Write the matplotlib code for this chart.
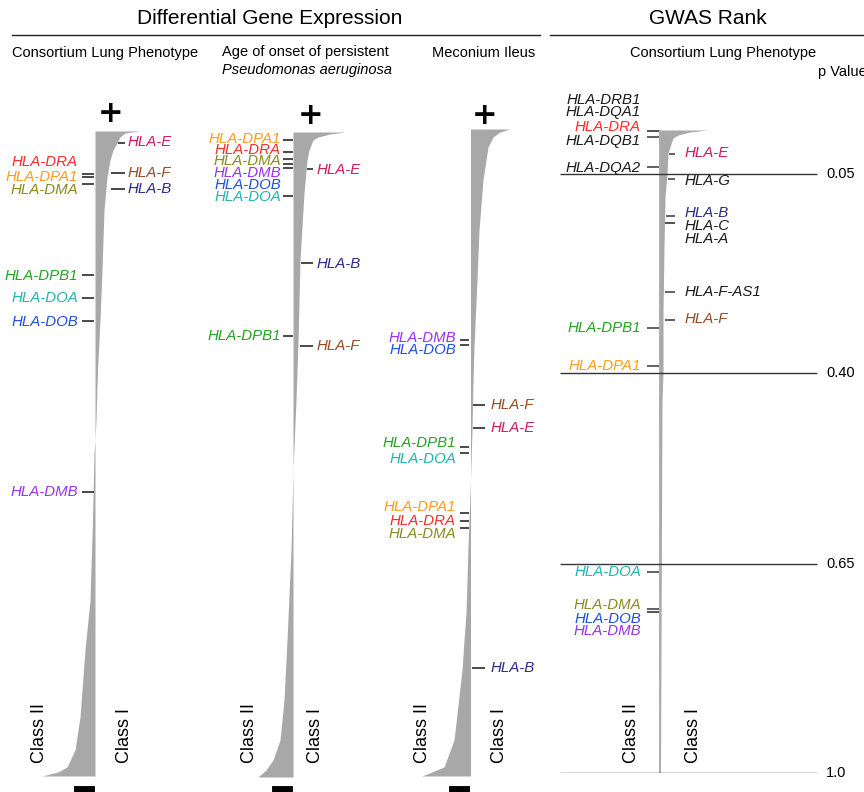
import numpy as np
import matplotlib
matplotlib.use("Agg")
import matplotlib.pyplot as plt
import matplotlib.patheffects as pe
from matplotlib.lines import Line2D

plt.rcParams['font.family'] = ['Liberation Sans', 'DejaVu Sans']

# ---------------- data ----------------
# sorted statistic (wedge): rank fraction (0 = top) vs score
p1_rank = [0, 0.0031, 0.0093, 0.0186, 0.0295, 0.045, 0.0713, 0.1225, 0.2155, 0.293, 0.3705,
           0.4481, 0.4791, 0.4992, 0.6031, 0.7271, 0.8047, 0.9085, 0.9597, 0.986, 0.9938, 1.0]
p1_score = [45, 30, 25, 22, 18, 15, 12, 9, 7, 5, 2.5, 1, 0, -1, -2.5, -5, -10, -15, -20, -28, -37, -53]

p2_rank = [0, 0.0031, 0.0078, 0.0124, 0.0279, 0.0434, 0.0946, 0.1984, 0.3271, 0.4155, 0.524,
           0.6481, 0.7876, 0.8806, 0.9426, 0.9736, 0.9891, 1.0]
p2_score = [52, 37, 25, 20, 16, 14, 11, 7, 5, 3, 0, -2, -6, -9, -13, -20, -27, -35]

p3_rank = [0, 0.0046, 0.0124, 0.0278, 0.0788, 0.1561, 0.2334, 0.3369, 0.3879, 0.4652, 0.5425,
           0.6461, 0.7481, 0.7898, 0.8362, 0.9444, 0.9861, 1.0]
p3_score = [39.5, 29.5, 22.5, 17.5, 12.5, 8.5, 6.5, 3.5, 2.5, 1.5, 0, -2.5, -4.5, -6.5, -8.5,
            -16.5, -26.5, -48.5]

gw_rank = [0, 0.0031, 0.0078, 0.0124, 0.0358, 0.0669, 0.1042, 0.182, 0.2846, 0.3779, 0.4199, 1.0]
gw_score = [48, 30, 18, 13, 8, 7, 5, 4, 3, 3, 2, 0.5]

# gene ranks in each panel
p1_left = ['HLA-DRA', 'HLA-DPA1', 'HLA-DMA', 'HLA-DPB1', 'HLA-DOA', 'HLA-DOB', 'HLA-DMB']
p1_left_rank = [0.0667, 0.0713, 0.0822, 0.2233, 0.2589, 0.2946, 0.5597]
p1_right = ['HLA-E', 'HLA-F', 'HLA-B']
p1_right_rank = [0.0186, 0.0651, 0.0899]

p2_left = ['HLA-DPA1', 'HLA-DRA', 'HLA-DMA', 'HLA-DMB', 'HLA-DOB', 'HLA-DOA', 'HLA-DPB1']
p2_left_rank = [0.0124, 0.031, 0.0419, 0.0496, 0.0558, 0.0992, 0.3163]
p2_right = ['HLA-E', 'HLA-B', 'HLA-F']
p2_right_rank = [0.0574, 0.2031, 0.3318]

p3_left = ['HLA-DMB', 'HLA-DOB', 'HLA-DPB1', 'HLA-DOA', 'HLA-DPA1', 'HLA-DRA', 'HLA-DMA']
p3_left_rank = [0.3261, 0.3338, 0.4915, 0.5008, 0.5935, 0.6059, 0.6167]
p3_right = ['HLA-F', 'HLA-E', 'HLA-B']
p3_right_rank = [0.4266, 0.4621, 0.8331]

gw_left = ['HLA-DRB1', 'HLA-DQA1', 'HLA-DRA', 'HLA-DQB1', 'HLA-DQA2', 'HLA-DPB1', 'HLA-DPA1',
           'HLA-DOA', 'HLA-DMA', 'HLA-DOB', 'HLA-DMB']
gw_left_rank = [0.0016, 0.0016, 0.0016, 0.0109, 0.0575, 0.3079, 0.367, 0.6874, 0.7449, 0.7496, 0.7496]
gw_right = ['HLA-E', 'HLA-G', 'HLA-B', 'HLA-C', 'HLA-A', 'HLA-F-AS1', 'HLA-F']
gw_right_rank = [0.0373, 0.0762, 0.1337, 0.1446, 0.1446, 0.2519, 0.2955]

p_labels = ['0.05', '0.40', '0.65', '1.0']
p_rank = [0.0684, 0.3779, 0.675, 1.0]

# label positions (layout only, rank units)
p1_left_lab = [0.0481, 0.0713, 0.0915, 0.2248, 0.2589, 0.2961, 0.5597]
p1_right_lab = [0.0171, 0.0651, 0.0899]
p2_left_lab = [0.0109, 0.0279, 0.045, 0.0636, 0.0822, 0.1008, 0.3163]
p2_right_lab = [0.0589, 0.2047, 0.3318]
p3_left_lab = [0.323, 0.3416, 0.4853, 0.51, 0.5842, 0.6059, 0.626]
p3_right_lab = p3_right_rank
gw_left_lab = [-0.0467, -0.028, -0.0047, 0.0171, 0.0591, 0.3079, 0.367, 0.6874, 0.7387, 0.7605, 0.7792]
gw_right_lab = [0.0358, 0.0793, 0.1291, 0.1493, 0.1695, 0.2519, 0.2939]

colors = {
    'HLA-DRA': '#ff2a2a', 'HLA-DPA1': '#ff9c1e', 'HLA-DMA': '#8a8a22',
    'HLA-DPB1': '#25a325', 'HLA-DOA': '#22b4b4', 'HLA-DOB': '#2050e0',
    'HLA-DMB': '#9933ee', 'HLA-E': '#cc1c5c', 'HLA-F': '#9a4a22',
    'HLA-B': '#2c2a8a',
}
BLACK = '#1a1a1a'
GRAY = '#a8a8a8'
LABEL_SIZE = 10.8

W, H = 864, 792
fig = plt.figure(figsize=(W / 100, H / 100), dpi=100)


def fx(px):
    return px / W


def fy(py):
    return 1 - py / H


def panel(zero, top, bottom):
    ax = fig.add_axes([0, fy(bottom), 1, (bottom - top) / H])
    ax.set_xlim(-zero, W - zero)
    ax.set_ylim(1, 0)
    ax.axis('off')
    return ax


def draw(ax, top, bottom, rank, score, left, lrank, llab, right, rrank, rlab, lay, tick='#3a3a3a'):
    ax.fill_betweenx(rank, 0, score, color=GRAY, lw=0)
    for g, r, lr in zip(left, lrank, llab):
        ax.plot([lay['lt'][0], lay['lt'][1]], [r, r], color=tick, lw=1.3, solid_capstyle='butt')
        ax.text(lay['lx'], lr, g, ha='right', va='center', style='italic', fontsize=LABEL_SIZE,
                color=colors.get(g, BLACK))
    for g, r, lr in zip(right, rrank, rlab):
        x0 = max(np.interp(r, rank, score) + 1, lay['rt'][0])
        ax.plot([x0, lay['rt'][1]], [r, r], color=tick, lw=1.3, solid_capstyle='butt')
        ax.text(lay['rx'], lr, g, ha='left', va='center', style='italic', fontsize=LABEL_SIZE,
                color=colors.get(g, BLACK))
    yb = (763 - top) / (bottom - top)
    ax.text(lay['c2'], yb, 'Class II', rotation=90, ha='center', va='bottom', fontsize=13)
    ax.text(lay['c1'], yb, 'Class I', rotation=90, ha='center', va='bottom', fontsize=13)


# ---- panel 1: Consortium Lung Phenotype ----
ax1 = panel(95, 131, 776)
draw(ax1, 131, 776, p1_rank, p1_score, p1_left, p1_left_rank, p1_left_lab,
     p1_right, p1_right_rank, p1_right_lab,
     dict(lt=(-13, -1), lx=-17, rt=(16, 30), rx=33, c2=-55, c1=30))

# ---- panel 2: Age of onset ----
ax2 = panel(293, 132, 777)
draw(ax2, 132, 777, p2_rank, p2_score, p2_left, p2_left_rank, p2_left_lab,
     p2_right, p2_right_rank, p2_right_lab,
     dict(lt=(-10, 0), lx=-12, rt=(7, 20), rx=24, c2=-43, c1=23))

# ---- panel 3: Meconium Ileus ----
ax3 = panel(470.5, 129, 776)
draw(ax3, 129, 776, p3_rank, p3_score, p3_left, p3_left_rank, p3_left_lab,
     p3_right, p3_right_rank, p3_right_lab,
     dict(lt=(-10, -1), lx=-14.5, rt=(2, 14.5), rx=20, c2=-47.5, c1=29.5))

# ---- GWAS panel ----
ax4 = panel(660, 130, 773)
ax4.plot([0, 0], [0, 1], color=GRAY, lw=1.3)
ax4.hlines(p_rank, -100, 157, color='#333333', lw=1.0)
for lab, r in zip(p_labels, p_rank):
    ax4.text(166, r, lab, ha='left', va='center', fontsize=10.5)
draw(ax4, 130, 773, gw_rank, gw_score, gw_left, gw_left_rank, gw_left_lab,
     gw_right, gw_right_rank, gw_right_lab,
     dict(lt=(-13, -1), lx=-19, rt=(5, 15), rx=25, c2=-28, c1=33), tick='#555555')

# plus / minus signs
for xp, yp in [(111, 113), (311, 115), (485, 116)]:
    fig.text(fx(xp), fy(yp), '+', ha='center', va='center', fontsize=22, fontweight='bold',
             family='DejaVu Sans')
for xp in [84, 282, 459]:
    fig.text(fx(xp), fy(791), '\u2212', ha='center', va='center', fontsize=19,
             fontweight='bold', family='DejaVu Sans',
             path_effects=[pe.withStroke(linewidth=3.5, foreground='black',
                                         joinstyle='miter', capstyle='butt')])

# headers
fig.text(fx(270), fy(19), 'Differential Gene Expression', ha='center', va='center', fontsize=15)
fig.text(fx(708), fy(19), 'GWAS Rank', ha='center', va='center', fontsize=15)
fig.add_artist(Line2D([fx(12), fx(540)], [fy(35), fy(35)], color='#222222', lw=1.0))
fig.add_artist(Line2D([fx(550), fx(864)], [fy(35), fy(35)], color='#222222', lw=1.0))

fig.text(fx(12), fy(53), 'Consortium Lung Phenotype', ha='left', va='center', fontsize=10.5)
fig.text(fx(222), fy(52), 'Age of onset of persistent', ha='left', va='center', fontsize=10.5)
fig.text(fx(222), fy(70), 'Pseudomonas aeruginosa', ha='left', va='center', fontsize=10.5,
         style='italic')
fig.text(fx(432), fy(53), 'Meconium Ileus', ha='left', va='center', fontsize=10.5)
fig.text(fx(723), fy(53), 'Consortium Lung Phenotype', ha='center', va='center', fontsize=10.5)
fig.text(fx(818), fy(72), 'p Value', ha='left', va='center', fontsize=10.5)

fig.savefig('out.png', dpi=100)
